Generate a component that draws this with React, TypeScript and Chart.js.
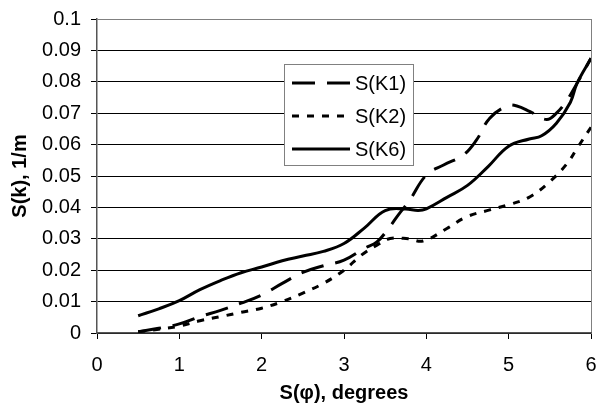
import React, { useEffect, useRef } from "react";
import { Chart, registerables } from "chart.js";

Chart.register(...registerables);

// Horizontal positions (S(φ), degrees) and curve values (S(k), 1/m)
const xK1 = [0.5, 0.75, 1.0, 1.25, 1.5, 1.75, 2.0, 2.25, 2.5, 2.75, 3.0, 3.25, 3.4, 3.54, 3.66, 3.8, 4.0, 4.21, 4.45, 4.61, 4.77, 4.98, 5.1, 5.26, 5.46, 5.58, 5.71, 5.83, 6.0];
const yK1 = [0.0004, 0.0015, 0.0029, 0.0052, 0.0072, 0.0095, 0.0121, 0.0158, 0.0193, 0.0214, 0.0232, 0.027, 0.029, 0.0333, 0.0376, 0.0424, 0.0503, 0.0535, 0.0567, 0.0615, 0.0684, 0.0723, 0.0723, 0.0705, 0.068, 0.07, 0.0742, 0.0795, 0.0875];

const xK2 = [0.5, 0.75, 1.0, 1.25, 1.5, 1.75, 2.0, 2.25, 2.5, 2.75, 3.0, 3.21, 3.4, 3.56, 3.78, 3.96, 4.25, 4.49, 4.77, 5.02, 5.26, 5.5, 5.71, 5.83, 6.0];
const yK2 = [0.0004, 0.0012, 0.0022, 0.0039, 0.0052, 0.0066, 0.0079, 0.01, 0.0127, 0.0158, 0.02, 0.0248, 0.028, 0.0301, 0.03, 0.0293, 0.0333, 0.037, 0.0392, 0.041, 0.0434, 0.0482, 0.054, 0.0588, 0.0655];

const xK6 = [0.5, 0.75, 1.0, 1.25, 1.5, 1.75, 2.0, 2.25, 2.5, 2.75, 3.0, 3.25, 3.5, 3.75, 3.9, 4.0, 4.25, 4.5, 4.75, 5.0, 5.25, 5.4, 5.58, 5.75, 5.83, 6.0];
const yK6 = [0.0055, 0.0077, 0.0103, 0.0138, 0.0167, 0.0192, 0.021, 0.023, 0.0245, 0.026, 0.0285, 0.0335, 0.039, 0.0395, 0.039, 0.0395, 0.0432, 0.047, 0.053, 0.0595, 0.0618, 0.0628, 0.0668, 0.0735, 0.0795, 0.0875];

const seriesLabels = ["S(K1)", "S(K2)", "S(K6)"];
const xTitle = "S(φ), degrees";
const yTitle = "S(k), 1/m";

const FONT = "'Liberation Sans', Arial, sans-serif";
const FONT_SIZE = 20;

const toPoints = (xs: number[], ys: number[]) => xs.map((x, i) => ({ x, y: ys[i] }));

// Boxed legend sitting inside the plot, with line samples in each series' style
const boxLegend = {
  id: "boxLegend",
  afterDraw(chart: any) {
    const { ctx } = chart;
    const left = 284.5;
    const top = 64.5;
    const w = 129;
    const h = 101;
    ctx.save();
    ctx.fillStyle = "#ffffff";
    ctx.fillRect(left, top, w, h);
    ctx.strokeStyle = "#808080";
    ctx.lineWidth = 1;
    ctx.strokeRect(left, top, w, h);
    const rows = [83, 116, 149];
    chart.data.datasets.forEach((ds: any, i: number) => {
      const y = rows[i];
      ctx.beginPath();
      ctx.strokeStyle = ds.borderColor;
      ctx.lineWidth = ds.borderWidth;
      ctx.lineCap = "butt";
      ctx.setLineDash(ds.borderDash || []);
      ctx.moveTo(292, y);
      ctx.lineTo(350, y);
      ctx.stroke();
      ctx.setLineDash([]);
      ctx.fillStyle = "#000";
      ctx.font = `${FONT_SIZE}px ${FONT}`;
      ctx.textAlign = "left";
      ctx.textBaseline = "middle";
      ctx.fillText(ds.label, 355, y + 1);
    });
    ctx.restore();
  },
};

export default function App() {
  const canvasRef = useRef<HTMLCanvasElement | null>(null);

  useEffect(() => {
    const canvas = canvasRef.current;
    if (!canvas) return;
    const common = {
      borderColor: "#000000",
      borderWidth: 3,
      pointRadius: 0,
      fill: false,
      tension: 0.4,
      borderCapStyle: "butt",
    };
    const chart = new Chart(canvas, {
      type: "line",
      data: {
        datasets: [
          { ...common, label: seriesLabels[0], data: toPoints(xK1, yK1), borderDash: [23, 12] },
          { ...common, label: seriesLabels[1], data: toPoints(xK2, yK2), borderDash: [7, 8] },
          { ...common, label: seriesLabels[2], data: toPoints(xK6, yK6), borderDash: [] },
        ],
      } as any,
      options: {
        animation: false,
        responsive: false,
        devicePixelRatio: 1,
        layout: { padding: { top: 19, right: 6, left: 0, bottom: 0 } },
        plugins: { legend: { display: false }, tooltip: { enabled: false } },
        scales: {
          x: {
            type: "linear",
            min: 0,
            max: 6,
            afterFit: (s: any) => {
              s.height = 78;
              s.paddingLeft = 0;
              s.paddingRight = 0;
            },
            ticks: {
              stepSize: 1,
              autoSkip: false,
              maxRotation: 0,
              color: "#000",
              padding: 14,
              font: { family: FONT, size: FONT_SIZE },
            },
            grid: {
              color: (c: any) => (c.tick && c.tick.value === 6 ? "#808080" : "rgba(0,0,0,0)"),
              tickColor: "#000",
              tickLength: 6,
              lineWidth: 1,
            },
            border: { color: "#555555", width: 1.5 },
            title: {
              display: true,
              text: xTitle,
              color: "#000",
              font: { family: FONT, size: FONT_SIZE, weight: "bold" },
              padding: { top: 0, bottom: 6 },
            },
          },
          y: {
            type: "linear",
            min: 0,
            max: 0.1,
            afterFit: (s: any) => {
              s.width = 97;
              s.paddingTop = 0;
              s.paddingBottom = 0;
            },
            ticks: {
              stepSize: 0.01,
              autoSkip: false,
              color: "#000",
              padding: 10,
              font: { family: FONT, size: FONT_SIZE },
              callback: (v: any) => String(Number(Number(v).toFixed(2))),
            },
            grid: {
              color: (c: any) => (c.tick && Math.abs(c.tick.value - 0.1) < 1e-9 ? "#808080" : "#000000"),
              tickColor: "#000",
              tickLength: 6,
              lineWidth: 1,
            },
            border: { color: "#555555", width: 1.5 },
            title: {
              display: true,
              text: yTitle,
              color: "#000",
              font: { family: FONT, size: FONT_SIZE, weight: "bold" },
              padding: { top: 8, bottom: 0 },
            },
          },
        },
      } as any,
      plugins: [boxLegend],
    });
    return () => chart.destroy();
  }, []);

  return (
    <div style={{ position: "absolute", left: 0, top: 0, width: 597, height: 411, background: "#fff" }}>
      <canvas ref={canvasRef} width={597} height={411} style={{ display: "block" }} />
    </div>
  );
}
